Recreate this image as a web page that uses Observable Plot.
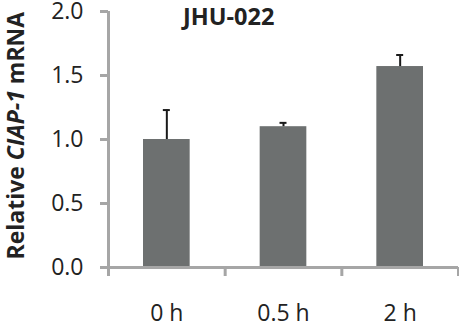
<!DOCTYPE html>
<html><head><meta charset="utf-8">
<script src="https://cdn.jsdelivr.net/npm/d3@7"></script>
<script src="https://cdn.jsdelivr.net/npm/@observablehq/plot@0.6"></script>
<style>
html,body{margin:0;padding:0;background:#fff;}
</style></head><body><div id="chart"></div>
<script>
const categories = ["0 h", "0.5 h", "2 h"];
const values = [1.0, 1.1, 1.57];
const errors = [0.23, 0.03, 0.09];
const yTicks = [0, 0.5, 1.0, 1.5, 2.0];
const title = "JHU-022";
const yLabelParts = ["Relative ", "CIAP-1", " mRNA"];
const yLabel = yLabelParts.join("");

const data = categories.map((c, i) => ({cat: c, i, value: values[i], err: errors[i]}));
const axisColor = "#a6a6a6";
const barColor = "#6d7070";
const textColor = "#222";
const font = "'Open Sans', sans-serif";

const chart = Plot.plot({
  width: 459, height: 327,
  marginLeft: 108, marginRight: 1, marginTop: 11, marginBottom: 60,
  style: {fontFamily: font, background: "#fff", color: textColor, overflow: "visible"},
  x: {domain: [0, 3], axis: null},
  y: {domain: [0, 2], axis: null},
  marks: [
    Plot.rectY(data, {x1: d => d.i + 0.3, x2: d => d.i + 0.7, y: "value", fill: barColor}),
    Plot.ruleX(data, {x: d => d.i + 0.5, y1: "value", y2: d => d.value + d.err, stroke: "#1a1a1a", strokeWidth: 2}),
    Plot.ruleY(data, {x1: d => d.i + 0.47, x2: d => d.i + 0.53, y: d => d.value + d.err, stroke: "#1a1a1a", strokeWidth: 2}),
    Plot.ruleX([0], {stroke: axisColor, strokeWidth: 3}),
    Plot.ruleY([0], {stroke: axisColor, strokeWidth: 3}),
    Plot.axisY({ticks: yTicks, tickFormat: d3.format(".1f"), tickSize: 8, tickPadding: 17,
      stroke: axisColor, strokeWidth: 3, fill: textColor, fontSize: 23, label: null}),
    Plot.axisX({ticks: [0, 1, 2, 3], tickSize: 9, tickFormat: () => "", stroke: axisColor, strokeWidth: 3, label: null}),
    Plot.axisX({ticks: [0.5, 1.5, 2.5], tickSize: 0, tickPadding: 37, tickFormat: d => categories[Math.floor(d)],
      fill: textColor, fontSize: 23, label: null}),
    Plot.text([title], {x: () => 1.03, frameAnchor: "top", dy: 6, lineAnchor: "middle",
      fontWeight: "bold", fontSize: 23.5, fill: textColor}),
    Plot.text([yLabel], {frameAnchor: "left", y: () => 1.03, dx: -92, rotate: -90, lineAnchor: "middle", textAnchor: "middle",
      fontWeight: "bold", fontSize: 23, fill: textColor})
  ]
});

d3.select(chart).selectAll("text").filter(function() { return this.textContent === yLabel; })
  .each(function() {
    const t = d3.select(this);
    t.text("");
    yLabelParts.forEach((p, k) => {
      const s = t.append("tspan").text(p);
      if (k === 1) s.attr("font-style", "italic");
    });
  });

document.getElementById("chart").appendChild(chart);
</script></body></html>
